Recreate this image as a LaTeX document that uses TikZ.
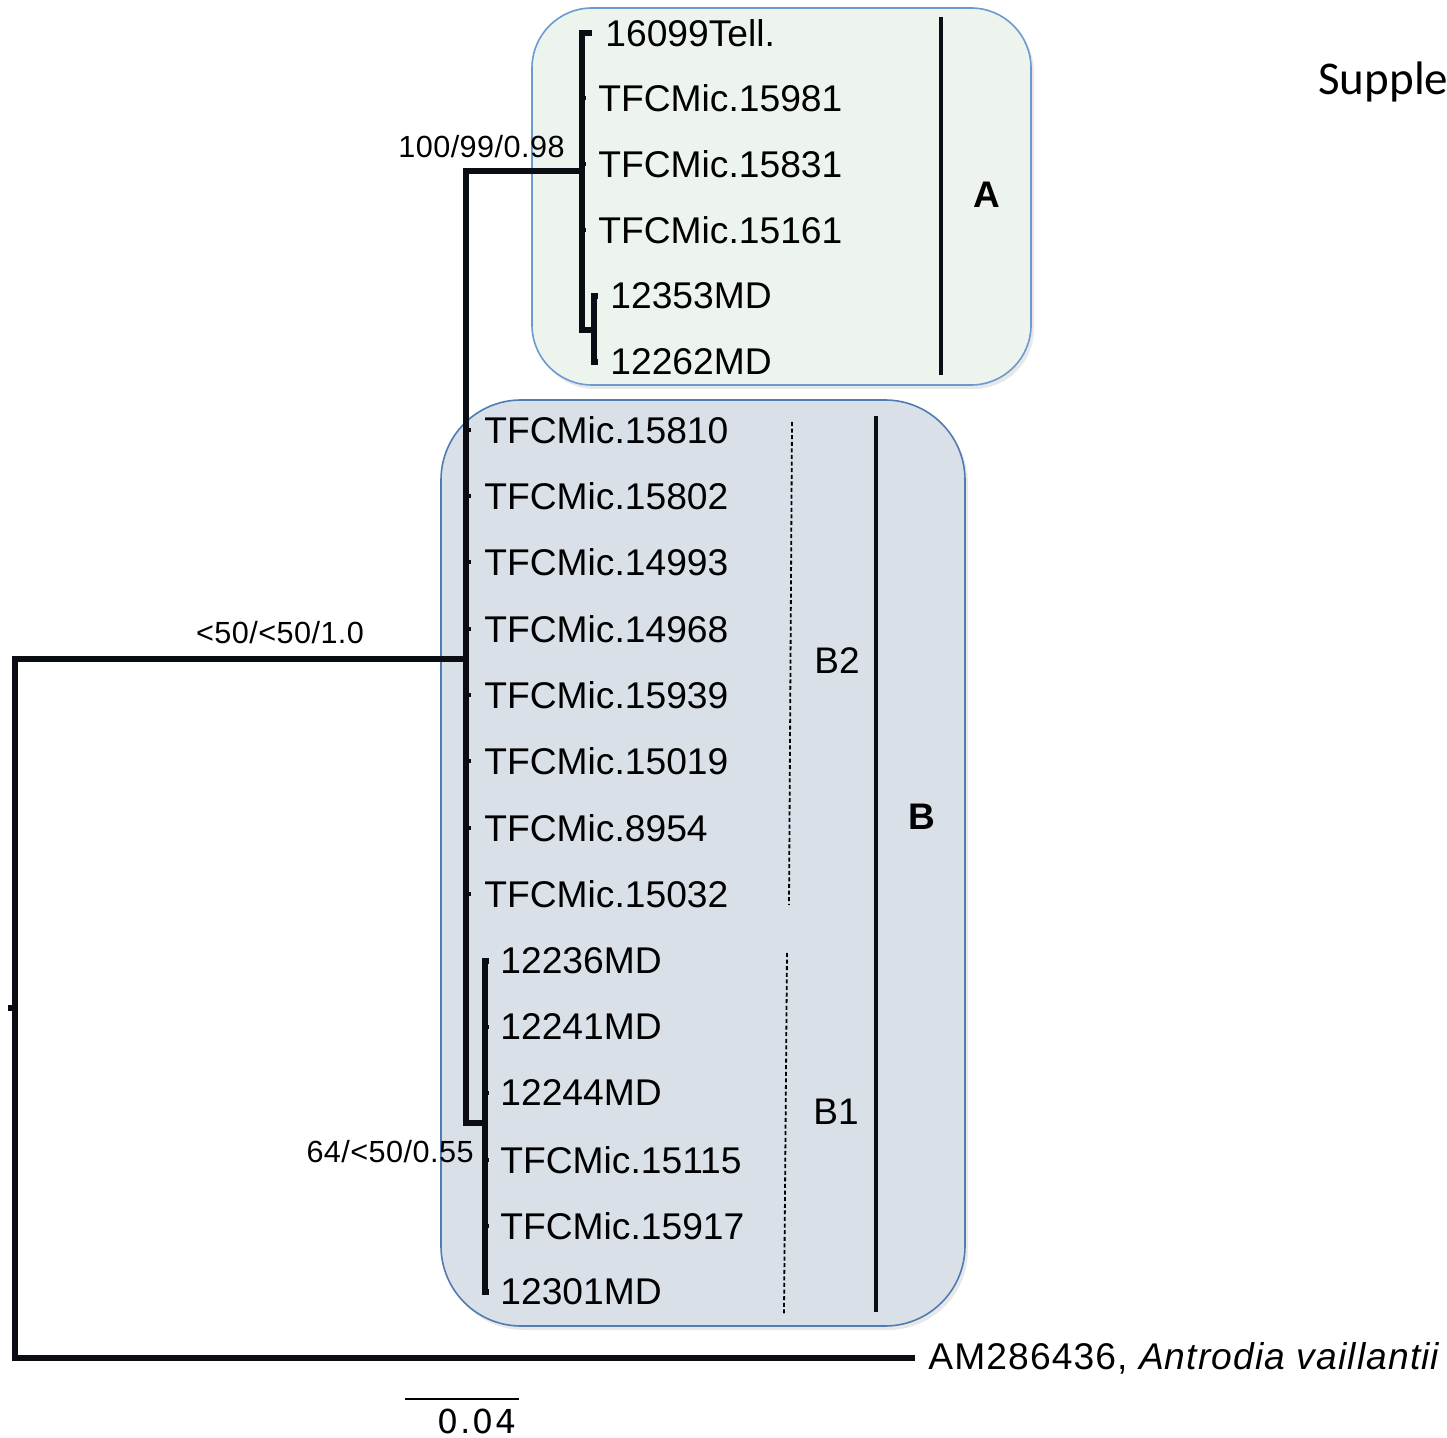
\documentclass[tikz,border=0pt]{standalone}
\usepackage{fontspec}
\setmainfont{Liberation Sans}
\newfontfamily\calibfont{Carlito}
\newfontfamily\scalefont{DejaVu Sans}
\usetikzlibrary{shadows}
\definecolor{afill}{RGB}{237,244,237}
\definecolor{aborder}{RGB}{106,154,208}
\definecolor{bfill}{RGB}{218,224,232}
\definecolor{bborder}{RGB}{79,125,179}
\definecolor{treeblack}{RGB}{10,14,20}
\begin{document}
\begin{tikzpicture}[x=0.5pt,y=-0.5pt,
  br/.style={line width=2.7pt,draw=treeblack},
  tick/.style={line width=2.2pt,draw=treeblack},
  leaf/.style={anchor=west,inner sep=0pt,font=\fontsize{18.6}{20}\selectfont},
  supp/.style={inner sep=0pt,font=\fontsize{15.3}{17}\selectfont\addfontfeature{LetterSpace=1.5}},
  clade/.style={inner sep=0pt,font=\fontsize{18.5}{20}\selectfont},
  bar/.style={line width=2pt,draw=treeblack},
  dbar/.style={line width=0.9pt,dash pattern=on 2pt off 1.3pt,draw=black},
  box/.style={line width=0.8pt,drop shadow={opacity=0.18,shadow xshift=1.5pt,shadow yshift=-2pt}},
]
\useasboundingbox (0,0) rectangle (1447,1438);
\fill[white] (0,0) rectangle (1447,1438);

% clade boxes
\draw[box,fill=afill,draw=aborder,rounded corners=30pt] (532,8) rectangle (1031,385);
\draw[box,fill=bfill,draw=bborder,rounded corners=40pt] (441,400) rectangle (965,1326);

% leaf labels, clade A
\node[leaf] (a1) at (605,33)  {16099Tell.};
\node[leaf] (a2) at (598,98)  {TFCMic.15981};
\node[leaf] (a3) at (598,164) {TFCMic.15831};
\node[leaf] (a4) at (598,230) {TFCMic.15161};
\node[leaf] (a5) at (610,296) {12353MD};
\node[leaf] (a6) at (610,362) {12262MD};

% leaf labels, clade B2
\node[leaf] (b1) at (484,430) {TFCMic.15810};
\node[leaf] (b2) at (484,496) {TFCMic.15802};
\node[leaf] (b3) at (484,562) {TFCMic.14993};
\node[leaf] (b4) at (484,629) {TFCMic.14968};
\node[leaf] (b5) at (484,695) {TFCMic.15939};
\node[leaf] (b6) at (484,761) {TFCMic.15019};
\node[leaf] (b7) at (484,828) {TFCMic.8954};
\node[leaf] (b8) at (484,894) {TFCMic.15032};

% leaf labels, clade B1
\node[leaf] (c1) at (500,961)  {12236MD};
\node[leaf] (c2) at (500,1027) {12241MD};
\node[leaf] (c3) at (500,1093) {12244MD};
\node[leaf] (c4) at (500,1160) {TFCMic.15115};
\node[leaf] (c5) at (500,1226) {TFCMic.15917};
\node[leaf] (c6) at (500,1292) {12301MD};

% outgroup
\node[leaf,font=\fontsize{18.6}{20}\selectfont\addfontfeature{LetterSpace=3}] (out) at (928,1358) {AM286436, \textit{Antrodia vaillantii}};

% internal nodes
\coordinate (root) at (15,1008);
\coordinate (rootstub) at (8,1008);
\coordinate (n1) at (466,659);
\coordinate (nA) at (582,171);
\coordinate (nA2) at (594,330);
\coordinate (nB1) at (485,1123);
\coordinate (outtip) at (915,1358);
\coordinate (a1tip) at (592,33);
\coordinate (a5tip) at (598,296);
\coordinate (a6tip) at (598,362);
\coordinate (c1tip) at (489,961);
\coordinate (c6tip) at (489,1292);

% tree branches
\draw[br] (rootstub) -- (root);
\draw[br] (n1) -| (root) |- (outtip);
\draw[br] (nA) -| (n1) |- (nB1);
\draw[br] (a1tip) -| (nA) |- (nA2);
\draw[br] (a5tip) -| (nA2) |- (a6tip);
\draw[br] (c1tip) -| (nB1) |- (c6tip);

% small leaf ticks
\foreach \l in {a2,a3,a4} \draw[tick] (nA |- \l.west) -- ++(4,0);
\foreach \l in {b1,b2,b3,b4,b5,b6,b7,b8} \draw[tick] (n1 |- \l.west) -- ++(5,0);
\foreach \l in {c2,c3,c4,c5} \draw[tick] (nB1 |- \l.west) -- ++(4,0);

% support values
\node[supp,anchor=east] (sA) at (565,147) {100/99/0.98};
\node[supp] (sN) at (280,633) {<50/<50/1.0};
\node[supp,anchor=east] (sB1) at (474,1152) {64/<50/0.55};

% clade bars
\coordinate (barAt) at (941,17);
\coordinate (barAb) at (941,375);
\draw[bar] (barAt) -- (barAb);
\node[clade,font=\fontsize{18.5}{20}\selectfont\bfseries] (labA) at (987,195) {A};
\coordinate (barBt) at (876,416);
\coordinate (barBb) at (876,1312);
\draw[bar] (barBt) -- (barBb);
\node[clade,font=\fontsize{18.5}{20}\selectfont\bfseries] (labB) at (922,817) {B};
\coordinate (barB2t) at (792,422);
\coordinate (barB2b) at (789,905);
\draw[dbar] (barB2t) -- (barB2b);
\node[clade] (labB2) at (837,661) {B2};
\coordinate (barB1t) at (787,953);
\coordinate (barB1b) at (784,1314);
\draw[dbar] (barB1t) -- (barB1b);
\node[clade] (labB1) at (836,1112) {B1};

% scale bar
\coordinate (sc1) at (405,1399);
\coordinate (sc2) at (519,1399);
\draw[line width=1pt] (sc1) -- (sc2);
\node[inner sep=0pt,font=\scalefont\fontsize{16.5}{18}\selectfont\addfontfeature{LetterSpace=6}] (sclab) at (477,1421) {0.04};

% caption fragment
\node[anchor=base west,inner sep=0pt,font=\calibfont\fontsize{23.5}{26}\selectfont] (cap) at (1318,95) {Supple};
\end{tikzpicture}
\end{document}
